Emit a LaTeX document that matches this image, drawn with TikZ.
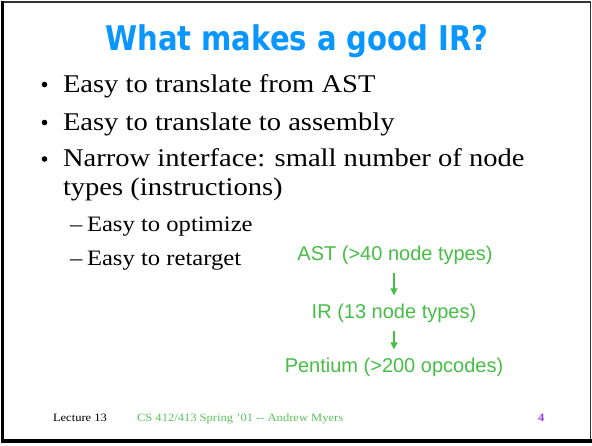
\documentclass[tikz,border=0pt]{standalone}
\usepackage{fontspec}
\setmainfont[FakeStretch=1.12]{Liberation Serif}
\newfontfamily\titlefont[FakeStretch=0.855]{DejaVu Sans}
\newfontfamily\diagfont{Liberation Sans}
\usetikzlibrary{arrows.meta}

\definecolor{titleblue}{RGB}{10,150,255}
\definecolor{diaggreen}{RGB}{70,190,70}
\definecolor{footgreen}{RGB}{90,195,90}
\definecolor{pagepurple}{RGB}{150,60,240}

\tikzset{
  txt/.style={anchor=base west, inner sep=0pt, outer sep=0pt},
  bodytext/.style={txt, font=\fontsize{25.5}{30}\selectfont},
  subtext/.style={txt, font=\fontsize{22}{26}\selectfont},
  bulletmark/.style={circle, fill=black, inner sep=0pt, outer sep=0pt,
                     minimum size=5.6pt},
  irlevel/.style={anchor=base, inner sep=0pt, text=diaggreen,
                  font=\diagfont\fontsize{20}{24}\selectfont},
  lowering/.style={draw=diaggreen, line width=1.2pt,
                   -{Triangle[length=7pt,width=7pt]},
                   shorten <=9pt, shorten >=8pt},
  foot/.style={txt, font=\fontsize{11.2}{14}\selectfont}
}

\begin{document}
\begin{tikzpicture}[x=1pt,y=-1pt]
  \useasboundingbox (0,0) rectangle (592,445);
  \fill[white] (0,0) rectangle (592,445);

  % slide frame, heavier on the left and bottom edges
  \draw[black!80, line width=1.5pt] (2.5,1.8) rectangle (590.5,440.5);
  \fill[black] (1,1) rectangle (4.2,442);
  \fill[black] (1,439) rectangle (591.5,442.5);

  % title
  \node[anchor=base, inner sep=0pt, text=titleblue,
        font=\titlefont\bfseries\fontsize{34}{40}\selectfont]
    (title) at (297,50) {What makes a good IR?};

  % bullet list
  \node[bulletmark] (b1) at (44.5,84.5) {};
  \node[bodytext] (l1) at (63,92) {Easy to translate from AST};
  \node[bulletmark] (b2) at (44.5,122.5) {};
  \node[bodytext] (l2) at (63,130) {Easy to translate to assembly};
  \node[bulletmark] (b3) at (44.5,159) {};
  \node[bodytext] (l3) at (63,166.5) {Narrow interface: small number of node};
  \node[bodytext] (l4) at (63,195) {types (instructions)};

  \node[subtext] (d1) at (70,231) {\textendash};
  \node[subtext] (s1) at (87,231) {Easy to optimize};
  \node[subtext] (d2) at (70,265) {\textendash};
  \node[subtext] (s2) at (87,265) {Easy to retarget};

  % lowering chain
  \node[irlevel] (ast) at (395,260) {AST (>40 node types)};
  \node[irlevel] (ir)  at (394,318) {IR (13 node types)};
  \node[irlevel] (pen) at (394,372) {Pentium (>200 opcodes)};
  \draw[lowering] (ir.north |- ast.south) -- (ir.north);
  \draw[lowering] (ir.south) -- (pen.north);

  % footer
  \node[foot] (lect) at (53,421) {Lecture 13};
  \node[foot, text=footgreen] (course) at (137,421) {CS 412/413 Spring '01 {-}{-} Andrew Myers};
  \node[foot, text=pagepurple, font=\bfseries\fontsize{11.2}{14}\selectfont] (pg) at (538,421) {4};
\end{tikzpicture}
\end{document}
